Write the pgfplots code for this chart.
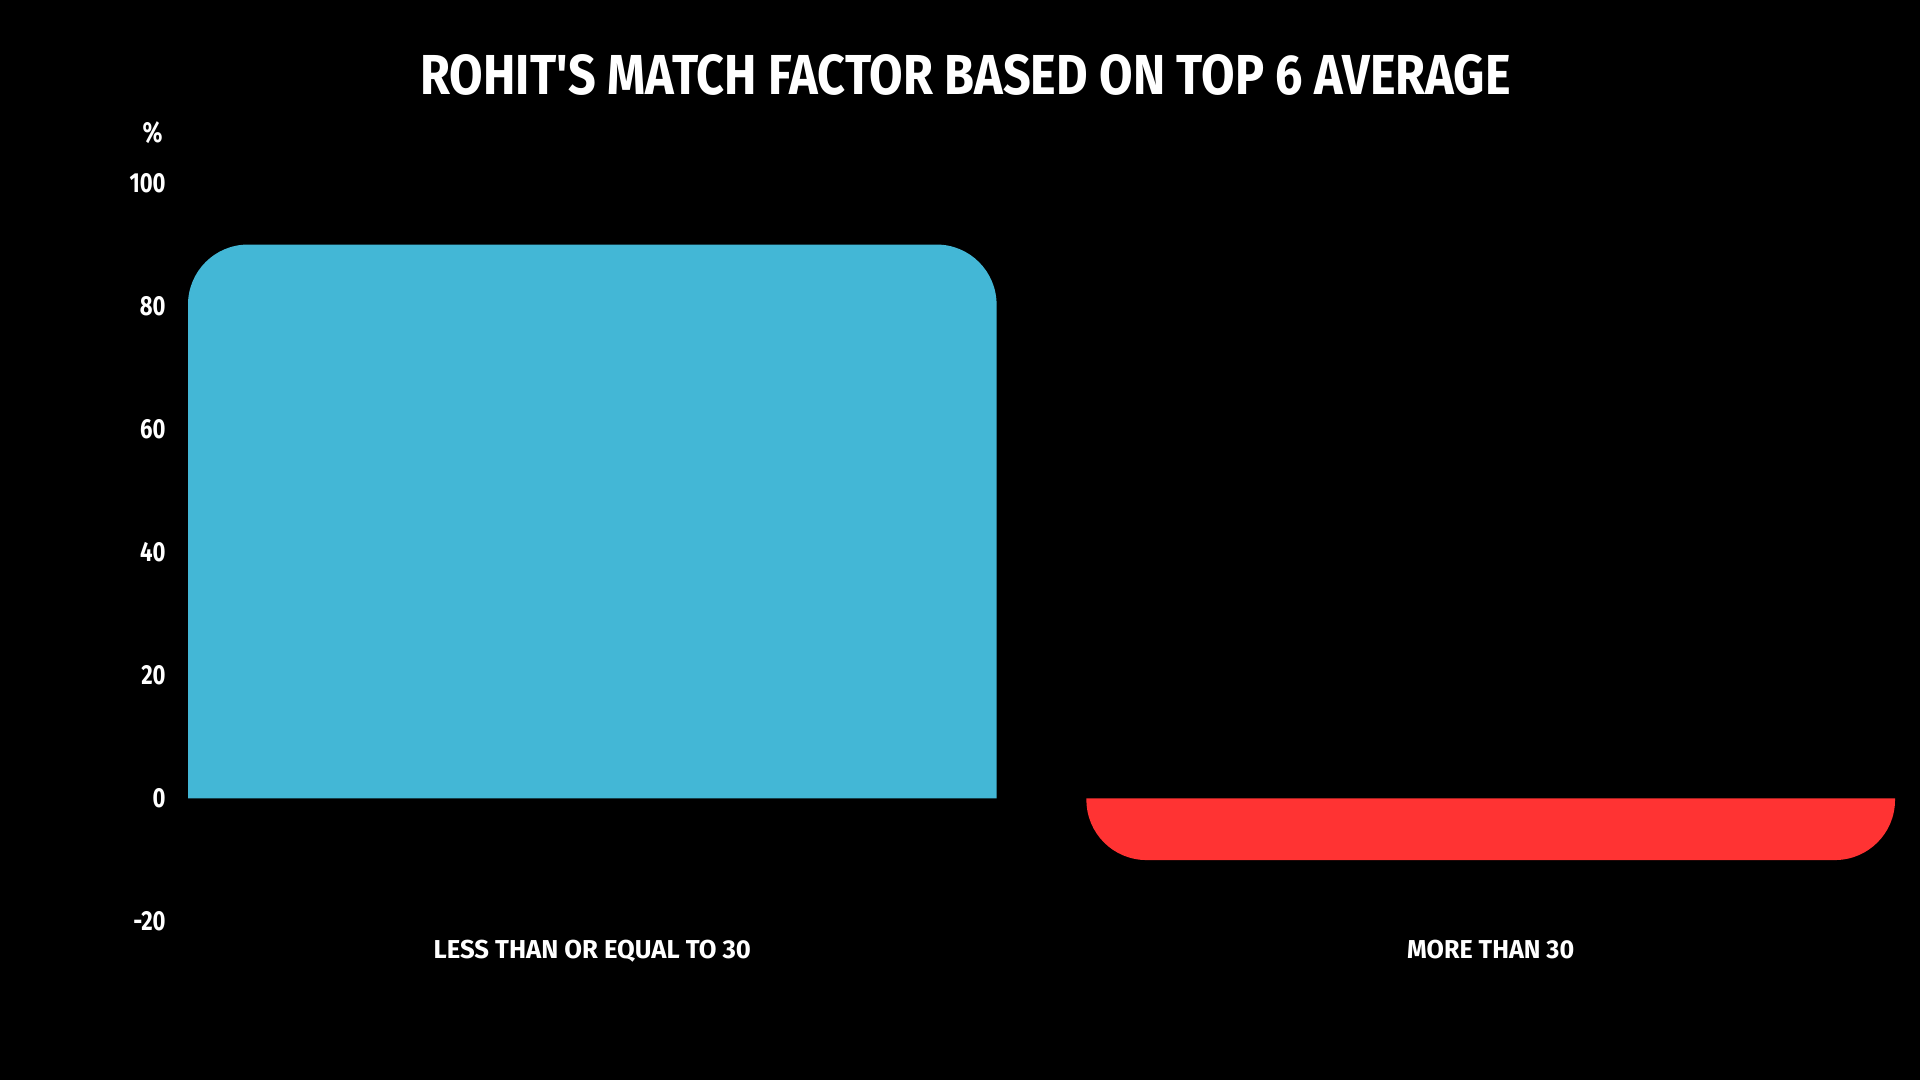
\documentclass[border=0pt]{standalone}
\usepackage{fontspec}
\setmainfont{Fira Sans}[FakeStretch=0.8, Ligatures=TeXOff]
\usepackage{graphicx}
\usepackage{pgfplots}
\pgfplotsset{compat=1.18}
\definecolor{barblue}{RGB}{67,183,214}
\definecolor{barred}{RGB}{255,51,51}

\begin{document}
\begin{tikzpicture}
\fill[black] (0,0) rectangle (960pt,540pt);
\useasboundingbox (0,0) rectangle (960pt,540pt);
\node[white, inner sep=0pt, anchor=base] at (482.8pt,492.5pt)
  {\resizebox{545pt}{20pt}{\bfseries ROHIT'S MATCH FACTOR BASED ON TOP 6 AVERAGE}};
\begin{axis}[
    at={(94pt,79.2pt)}, anchor=south west,
    scale only axis,
    width=853.5pt, height=369.3pt,
    xmin=-0.45, xmax=1.45,
    ymin=-20, ymax=100,
    ytick={-20,0,20,40,60,80,100},
    xtick={0,1},
    xticklabels={
        {\resizebox{158.7pt}{9.2pt}{LESS THAN OR EQUAL TO 30}},
        {\resizebox{83.5pt}{9.2pt}{MORE THAN 30}}},
    axis line style={draw=none},
    tick style={draw=none},
    major tick length=0pt,
    /pgf/number format/assume math mode=true,
    tick label style={white, inner sep=0pt, font=\fontsize{13.8}{16}\selectfont\bfseries},
    yticklabel style={anchor=east, xshift=-11pt},
    xticklabel style={anchor=base, yshift=-18.7pt},
    ylabel={\%},
    every axis y label/.style={at={(axis description cs:0,1)}, anchor=center,
        xshift=-17.75pt, yshift=25.25pt, inner sep=0pt, white,
        font=\fontsize{14.5}{16}\selectfont\bfseries},
    clip=false,
]
% bar width 0.9 around each category; the far end of each bar is rounded
% LESS THAN OR EQUAL TO 30 : 90
\addplot[fill=barblue, draw=none, rounded corners=30pt]
    coordinates {(-0.45,0) (-0.45,90) (0.45,90) (0.45,0)};
% MORE THAN 30 : -10
\addplot[fill=barred, draw=none, rounded corners=30pt]
    coordinates {(0.55,0) (0.55,-10) (1.45,-10) (1.45,0)};
\end{axis}
\end{tikzpicture}
\end{document}
